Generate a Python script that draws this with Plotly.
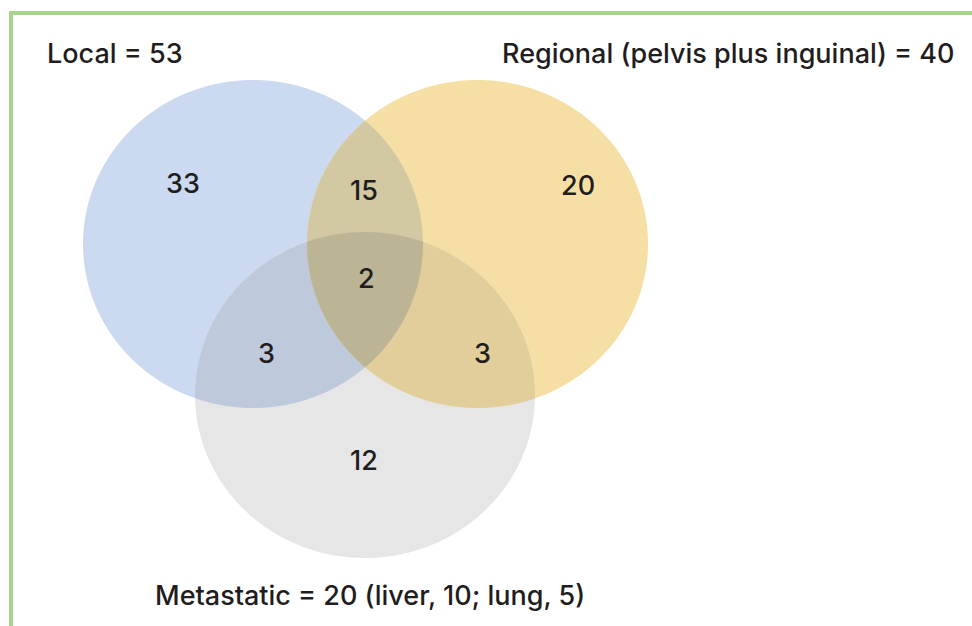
import numpy as np
import plotly.graph_objects as go

# ---- data ----
set_labels = ["Local = 53",
              "Regional (pelvis plus inguinal) = 40",
              "Metastatic = 20 (liver, 10; lung, 5)"]
region_sets = [(0,), (1,), (2,), (0, 1), (0, 2), (1, 2), (0, 1, 2)]
region_counts = [33, 20, 12, 15, 3, 3, 2]

# ---- layout (pixel coordinates, y downwards) ----
W, H = 972, 626
circles = [  # cx, cy, rx, ry
    (253, 244, 170, 164),
    (477.5, 244, 170.5, 164),
    (365, 395, 170, 163),
]
region_colors = ["#cbdaf0", "#f6dfa5", "#e6e6e6",
                 "#d2c8a2", "#bec9dc", "#e1ce9b", "#bbb596"]
region_label_pos = [(183, 183), (578, 185), (364, 460),
                    (364, 190), (266, 353), (482, 353), (366, 278)]
set_label_pos = [(115, 53), (728, 53), (370, 595)]

t = np.linspace(0, 2 * np.pi, 1441)


def ell_pts(i):
    cx, cy, rx, ry = circles[i]
    return cx + rx * np.cos(t), cy + ry * np.sin(t)


def inside(i, x, y):
    cx, cy, rx, ry = circles[i]
    return ((x - cx) / rx) ** 2 + ((y - cy) / ry) ** 2 <= 1 + 1e-9


def region_path(idxs):
    xs, ys = [], []
    for i in idxs:
        x, y = ell_pts(i)
        m = np.ones_like(x, dtype=bool)
        for j in idxs:
            if j != i:
                m &= inside(j, x, y)
        xs.append(x[m]); ys.append(y[m])
    x = np.concatenate(xs); y = np.concatenate(ys)
    mx, my = x.mean(), y.mean()
    order = np.argsort(np.arctan2(y - my, x - mx))
    x, y = x[order], y[order]
    return "M " + " L ".join(f"{a:.2f},{b:.2f}" for a, b in zip(x, y)) + " Z"


shapes = []
for idxs, col in zip(region_sets, region_colors):
    shapes.append(dict(type="path", path=region_path(idxs), xref="x", yref="y",
                       fillcolor=col, line=dict(width=0), layer="below"))

# green frame
shapes.append(dict(type="line", xref="x", yref="y", x0=9, x1=W, y0=13, y1=13,
                   line=dict(color="#a8d48e", width=4)))
shapes.append(dict(type="line", xref="x", yref="y", x0=11, x1=11, y0=11, y1=H,
                   line=dict(color="#a8d48e", width=4)))

font = dict(family="Inter, Liberation Sans, Arial, sans-serif", size=27,
            color="#1f1d1e", weight=500)
annotations = []
for txt, (x, y) in zip(set_labels, set_label_pos):
    annotations.append(dict(x=x, y=y, xref="x", yref="y", text=txt, showarrow=False,
                            font=font, xanchor="center", yanchor="middle"))
for n, (x, y) in zip(region_counts, region_label_pos):
    annotations.append(dict(x=x, y=y, xref="x", yref="y", text=str(n), showarrow=False,
                            font=font, xanchor="center", yanchor="middle"))

fig = go.Figure()
fig.add_trace(go.Scatter(x=[0, W], y=[0, H], mode="markers",
                         marker=dict(opacity=0), hoverinfo="skip", showlegend=False))
fig.update_layout(
    width=W, height=H, autosize=False,
    margin=dict(l=0, r=0, t=0, b=0),
    paper_bgcolor="white", plot_bgcolor="white",
    xaxis=dict(range=[0, W], visible=False, fixedrange=True),
    yaxis=dict(range=[H, 0], visible=False, fixedrange=True),
    shapes=shapes, annotations=annotations, showlegend=False,
)
fig.write_html("out.html", post_script="document.body.style.margin='0';",
               config={"displayModeBar": False})
